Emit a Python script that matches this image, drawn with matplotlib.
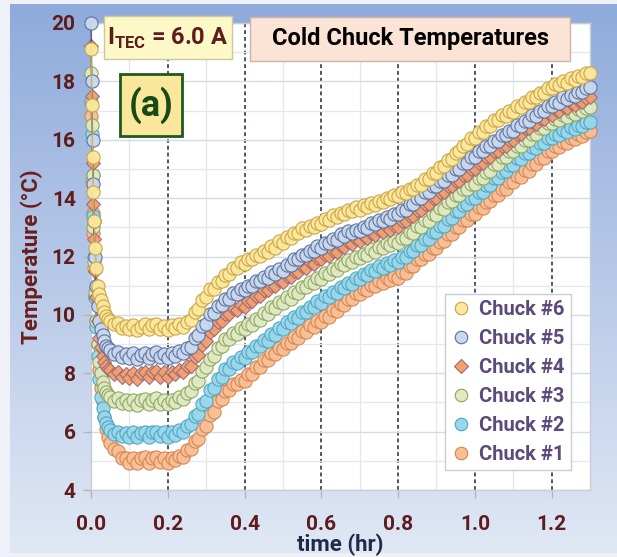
import numpy as np
import matplotlib
matplotlib.use("Agg")
import matplotlib.pyplot as plt
from matplotlib.patches import Rectangle
from matplotlib.lines import Line2D

plt.rcParams['font.family'] = ['Roboto', 'Liberation Sans', 'DejaVu Sans']
plt.rcParams['font.weight'] = 'bold'
plt.rcParams['mathtext.fontset'] = 'custom'
plt.rcParams['mathtext.rm'] = 'Roboto:bold'
plt.rcParams['mathtext.bf'] = 'Roboto:bold'

# time axis (hr): dense samples right after start, then every 0.01 hr
t_early = [0.0, 0.002, 0.004, 0.006, 0.008, 0.011, 0.014, 0.018, 0.022, 0.026, 0.030, 0.035, 0.040, 0.045]
t_main = [round(0.05 + 0.01 * i, 2) for i in range(126)]
time_hr = t_early + t_main

chuck6 = [19.1, 17.2, 15.4, 14.2, 13.2, 12.3, 11.6, 11.0, 10.7, 10.5, 10.3, 10.1, 9.95, 9.85,
          9.80, 9.68, 9.72, 9.55, 9.62,
          9.50, 9.66, 9.48, 9.60, 9.68, 9.50, 9.64, 9.70, 9.50, 9.62,
          9.48, 9.64, 9.55, 9.70, 9.58, 9.74, 9.82, 10.10, 10.20, 10.50,
          10.60, 10.88, 10.90, 11.12, 11.15, 11.38, 11.40, 11.62, 11.60, 11.80,
          11.76, 11.90, 11.92, 12.06, 12.02, 12.20, 12.16, 12.36, 12.30, 12.52,
          12.46, 12.66, 12.64, 12.82, 12.80, 12.96, 12.90, 13.06, 13.00, 13.16,
          13.10, 13.30, 13.26, 13.42, 13.36, 13.50, 13.46, 13.60, 13.56, 13.68,
          13.60, 13.76, 13.68, 13.84, 13.76, 13.90, 13.86, 14.00, 13.96, 14.10,
          14.06, 14.20, 14.16, 14.32, 14.30, 14.46, 14.46, 14.66, 14.66, 14.86,
          14.86, 15.06, 15.10, 15.30, 15.35, 15.56, 15.60, 15.80, 15.86, 16.05,
          16.06, 16.26, 16.26, 16.46, 16.46, 16.66, 16.66, 16.86, 16.82, 17.00,
          16.96, 17.15, 17.12, 17.30, 17.30, 17.46, 17.45, 17.60, 17.60, 17.76,
          17.76, 17.90, 17.86, 18.00, 17.96, 18.10, 18.06, 18.20, 18.16, 18.28, 18.30]

chuck5 = [20.0, 18.0, 16.0, 14.5, 13.2, 12.0, 11.0, 10.3, 9.8, 9.5, 9.3, 9.1, 8.95, 8.85,
          8.80, 8.66, 8.74, 8.55, 8.66,
          8.52, 8.68, 8.50, 8.64, 8.70, 8.52, 8.66, 8.72, 8.54, 8.66,
          8.52, 8.68, 8.60, 8.76, 8.68, 8.86, 8.90, 9.22, 9.30, 9.62,
          9.70, 10.02, 10.05, 10.32, 10.35, 10.56, 10.55, 10.76, 10.72, 10.90,
          10.86, 11.00, 11.00, 11.16, 11.15, 11.30, 11.26, 11.46, 11.40, 11.56,
          11.50, 11.70, 11.70, 11.90, 11.90, 12.06, 12.05, 12.20, 12.20, 12.36,
          12.30, 12.46, 12.45, 12.60, 12.56, 12.76, 12.70, 12.86, 12.80, 12.92,
          12.86, 13.00, 12.96, 13.16, 13.10, 13.26, 13.20, 13.36, 13.30, 13.46,
          13.45, 13.60, 13.60, 13.80, 13.80, 14.00, 14.00, 14.20, 14.20, 14.40,
          14.40, 14.60, 14.60, 14.80, 14.80, 15.00, 15.00, 15.20, 15.20, 15.40,
          15.40, 15.60, 15.60, 15.80, 15.80, 15.95, 15.96, 16.15, 16.15, 16.30,
          16.30, 16.50, 16.46, 16.65, 16.65, 16.85, 16.80, 17.00, 17.00, 17.15,
          17.15, 17.30, 17.26, 17.45, 17.40, 17.55, 17.50, 17.65, 17.65, 17.78, 17.80]

chuck4 = [19.2, 17.5, 15.2, 13.8, 12.6, 11.5, 10.6, 9.8, 9.2, 8.9, 8.6, 8.4, 8.25, 8.15,
          8.10, 7.98, 8.04, 7.88, 7.98,
          7.84, 8.00, 7.82, 8.00, 8.05, 7.86, 8.04, 8.08, 7.88, 8.04,
          7.86, 8.04, 7.96, 8.12, 8.04, 8.24, 8.26, 8.56, 8.64, 8.96,
          9.10, 9.40, 9.50, 9.76, 9.80, 10.04, 10.02, 10.22, 10.16, 10.34,
          10.28, 10.46, 10.46, 10.66, 10.64, 10.86, 10.84, 11.04, 11.00, 11.18,
          11.14, 11.34, 11.30, 11.50, 11.46, 11.66, 11.62, 11.80, 11.76, 11.96,
          11.90, 12.06, 12.02, 12.20, 12.16, 12.36, 12.32, 12.50, 12.44, 12.60,
          12.54, 12.70, 12.64, 12.80, 12.74, 12.90, 12.84, 13.00, 12.92, 13.06,
          13.00, 13.20, 13.20, 13.40, 13.40, 13.60, 13.60, 13.80, 13.80, 14.00,
          14.00, 14.20, 14.20, 14.40, 14.40, 14.60, 14.60, 14.80, 14.80, 15.00,
          15.00, 15.20, 15.20, 15.40, 15.40, 15.60, 15.60, 15.80, 15.80, 16.00,
          16.00, 16.20, 16.20, 16.40, 16.40, 16.60, 16.55, 16.75, 16.72, 16.90,
          16.86, 17.05, 17.00, 17.15, 17.10, 17.25, 17.20, 17.35, 17.30, 17.42, 17.45]

chuck3 = [18.3, 16.5, 14.8, 13.0, 11.8, 10.8, 9.8, 9.0, 8.4, 8.0, 7.7, 7.5, 7.35, 7.25,
          7.20, 7.06, 7.14, 6.98, 7.08,
          6.94, 7.10, 6.92, 7.08, 7.12, 6.94, 7.10, 7.16, 6.96, 7.10,
          6.94, 7.10, 7.02, 7.18, 7.12, 7.34, 7.38, 7.66, 7.74, 8.06,
          8.20, 8.50, 8.60, 8.88, 8.92, 9.16, 9.16, 9.38, 9.36, 9.56,
          9.50, 9.68, 9.64, 9.86, 9.84, 10.06, 10.04, 10.26, 10.24, 10.44,
          10.40, 10.60, 10.56, 10.78, 10.74, 10.96, 10.94, 11.14, 11.10, 11.28,
          11.24, 11.44, 11.40, 11.58, 11.54, 11.74, 11.70, 11.88, 11.82, 12.00,
          11.94, 12.10, 12.04, 12.24, 12.16, 12.34, 12.30, 12.46, 12.40, 12.52,
          12.46, 12.64, 12.62, 12.84, 12.82, 13.04, 13.02, 13.24, 13.22, 13.44,
          13.42, 13.66, 13.64, 13.88, 13.90, 14.10, 14.10, 14.30, 14.30, 14.50,
          14.50, 14.70, 14.70, 14.90, 14.92, 15.16, 15.16, 15.40, 15.40, 15.60,
          15.60, 15.80, 15.80, 16.00, 16.00, 16.20, 16.20, 16.40, 16.40, 16.58,
          16.56, 16.70, 16.68, 16.84, 16.78, 16.94, 16.88, 17.04, 16.98, 17.10, 17.12]

chuck2 = [17.3, 16.2, 14.8, 13.4, 12.0, 10.6, 9.6, 8.6, 7.8, 7.2, 6.8, 6.5, 6.3, 6.15,
          6.05, 5.92, 6.00, 5.86, 5.96,
          5.82, 5.98, 5.80, 5.96, 6.00, 5.82, 5.98, 6.00, 5.84, 5.98,
          5.82, 5.98, 5.90, 6.06, 6.00, 6.20, 6.26, 6.54, 6.62, 6.96,
          7.06, 7.42, 7.50, 7.82, 7.86, 8.14, 8.14, 8.38, 8.36, 8.56,
          8.52, 8.74, 8.72, 8.94, 8.92, 9.14, 9.12, 9.34, 9.32, 9.54,
          9.52, 9.74, 9.72, 9.92, 9.88, 10.10, 10.10, 10.28, 10.26, 10.46,
          10.42, 10.64, 10.60, 10.80, 10.76, 10.96, 10.92, 11.10, 11.06, 11.26,
          11.22, 11.40, 11.36, 11.54, 11.50, 11.66, 11.62, 11.78, 11.72, 11.88,
          11.82, 12.00, 12.00, 12.20, 12.20, 12.40, 12.40, 12.60, 12.60, 12.84,
          12.84, 13.06, 13.06, 13.30, 13.32, 13.56, 13.56, 13.78, 13.80, 14.00,
          14.00, 14.20, 14.22, 14.46, 14.46, 14.68, 14.68, 14.90, 14.92, 15.14,
          15.14, 15.36, 15.34, 15.56, 15.54, 15.74, 15.72, 15.90, 15.90, 16.06,
          16.06, 16.20, 16.16, 16.32, 16.28, 16.42, 16.38, 16.52, 16.48, 16.60, 16.62]

chuck1 = [16.8, 14.6, 13.5, 12.8, 11.6, 10.6, 9.8, 9.0, 8.1, 7.5, 7.0, 6.5, 6.1, 5.8,
          5.60, 5.40, 5.34, 5.10, 5.10,
          4.94, 5.10, 4.92, 5.08, 5.12, 4.94, 5.10, 5.14, 4.96, 5.10,
          4.94, 5.10, 5.02, 5.18, 5.14, 5.36, 5.40, 5.68, 5.76, 6.08,
          6.18, 6.56, 6.68, 7.04, 7.12, 7.40, 7.44, 7.64, 7.62, 7.78,
          7.74, 7.96, 7.96, 8.20, 8.22, 8.46, 8.46, 8.68, 8.66, 8.88,
          8.84, 9.04, 9.02, 9.24, 9.22, 9.44, 9.42, 9.64, 9.60, 9.78,
          9.74, 9.96, 9.94, 10.16, 10.14, 10.36, 10.34, 10.56, 10.54, 10.74,
          10.70, 10.88, 10.84, 11.04, 11.00, 11.16, 11.10, 11.26, 11.20, 11.34,
          11.28, 11.46, 11.44, 11.66, 11.66, 11.90, 11.90, 12.10, 12.10, 12.30,
          12.30, 12.50, 12.52, 12.76, 12.76, 13.00, 13.00, 13.24, 13.24, 13.46,
          13.44, 13.68, 13.66, 13.88, 13.90, 14.10, 14.10, 14.30, 14.32, 14.54,
          14.54, 14.76, 14.74, 14.96, 14.94, 15.18, 15.16, 15.38, 15.36, 15.60,
          15.60, 15.78, 15.74, 15.94, 15.90, 16.06, 16.02, 16.18, 16.12, 16.28, 16.30]

labels = ["Chuck #1", "Chuck #2", "Chuck #3", "Chuck #4", "Chuck #5", "Chuck #6"]
series = [chuck1, chuck2, chuck3, chuck4, chuck5, chuck6]
x_ticks = [0.0, 0.2, 0.4, 0.6, 0.8, 1.0, 1.2]
y_ticks = [4, 6, 8, 10, 12, 14, 16, 18, 20]

# style: (fill, edge, line, marker)
styles = [
    ("#f8bf96", "#d4834c", "#e0945a", "o"),
    ("#9bd7ea", "#4ba6c2", "#4ba6c2", "o"),
    ("#dfe9c4", "#8fa45c", "#8fa45c", "o"),
    ("#f2a06c", "#9a6a7a", "#7a5a8a", "D"),
    ("#c8d8ef", "#5b6f98", "#3d4f7a", "o"),
    ("#fbe89c", "#c9a245", "#d4ad50", "o"),
]

maroon = "#5e1c1c"

fig = plt.figure(figsize=(6.17, 5.57), dpi=100)
fig.patch.set_facecolor("#eef2f8")

# blue gradient background
bg = fig.add_axes([10 / 617, 4 / 557, 607 / 617, 549 / 557], zorder=-10)
grad = np.linspace(0, 1, 256).reshape(-1, 1)
top = np.array([0.56, 0.67, 0.86])
bot = np.array([0.88, 0.91, 0.96])
img = top[None, None, :] * (1 - grad[:, :, None]) + bot[None, None, :] * grad[:, :, None]
bg.imshow(img, aspect="auto", extent=[0, 1, 0, 1])
bg.axis("off")

ax = fig.add_axes([91 / 617, 1 - 490 / 557, 499 / 617, 467 / 557])
ax.set_facecolor("white")

for vals, lab, (fc, ec, lc, mk) in zip(series, labels, styles):
    ms = 9.5 if mk == "o" else 7.5
    ax.plot(time_hr, vals, color=lc, lw=1.0, marker=mk, ms=ms, mfc=fc, mec=ec,
            mew=0.8, alpha=0.95, clip_on=False, zorder=3)

ax.set_xlim(0, 1.3)
ax.set_ylim(4, 20)
ax.set_xticks(x_ticks)
ax.set_xticklabels([f"{v:.1f}" for v in x_ticks])
ax.set_yticks(y_ticks)
ax.set_xticks(np.arange(0.1, 1.3, 0.2), minor=True)
ax.set_yticks(np.arange(5, 20, 2), minor=True)

ax.grid(True, which="minor", color="#e3e7ef", lw=0.9)
ax.yaxis.grid(True, which="major", color="#d5dae5", lw=1.0)
ax.xaxis.grid(True, which="major", color="#4e5666", lw=1.4, ls=(0, (2, 1.5)))
ax.set_axisbelow(True)

ax.tick_params(axis="both", which="major", labelsize=15, labelcolor=maroon,
               color="#b0b4bc", length=6, width=1)
ax.tick_params(axis="both", which="minor", length=0)
ax.tick_params(axis="x", pad=12)
ax.tick_params(axis="y", pad=5)
for sp in ax.spines.values():
    sp.set_color("#c8ccd6")
    sp.set_linewidth(1.0)

ax.set_xlabel("time (hr)", fontsize=16, color="#1f2a48", fontweight="bold", labelpad=0)
ax.set_ylabel("Temperature (\u00b0C)", fontsize=16, color="#6a1e1e", fontweight="bold", labelpad=6)

handles = []
for lab, (fc, ec, lc, mk) in zip(labels, styles):
    handles.append(Line2D([], [], ls="none", marker=mk, ms=9 if mk == "o" else 7,
                          mfc=fc, mec=ec, mew=0.8, label=lab))
leg = ax.legend(handles[::-1], labels[::-1], loc="upper right",
                bbox_to_anchor=(0.962, 0.42), borderaxespad=0,
                prop={"size": 14.5, "weight": "bold"},
                labelcolor="#5b4a7a", frameon=True, fancybox=False,
                edgecolor="#c8ccd6", framealpha=1, handletextpad=0.4,
                labelspacing=0.5, handlelength=1.0, borderpad=0.3)
leg.set_zorder(10)

# annotation boxes (figure pixel coordinates)
def fig_box(x0, y0, x1, y1, fc, ec, lw):
    r = Rectangle((x0 / 617, 1 - y1 / 557), (x1 - x0) / 617, (y1 - y0) / 557,
                  transform=fig.transFigure, facecolor=fc, edgecolor=ec, lw=lw, zorder=20)
    fig.add_artist(r)

fig_box(104, 16, 232, 59, "#fdf8c8", "#cfc89a", 1.0)
fig.text(168 / 617, 1 - 38 / 557, r"I$_{\mathrm{TEC}}$ = 6.0 A", fontsize=17,
         color=maroon, ha="center", va="center", zorder=21)

fig_box(120, 74, 182, 136, "#fbe79c", "#1e5a1e", 2.0)
fig.text(151 / 617, 1 - 105 / 557, "(a)", fontsize=26, color="#174a17",
         ha="center", va="center", zorder=21)

fig_box(250, 17, 570, 61, "#fbe4d5", "#c9b4a6", 1.0)
fig.text(410 / 617, 1 - 39 / 557, "Cold Chuck Temperatures", fontsize=17,
         color="black", ha="center", va="center", zorder=21)

fig.savefig("out.png", dpi=100, facecolor=fig.get_facecolor())
